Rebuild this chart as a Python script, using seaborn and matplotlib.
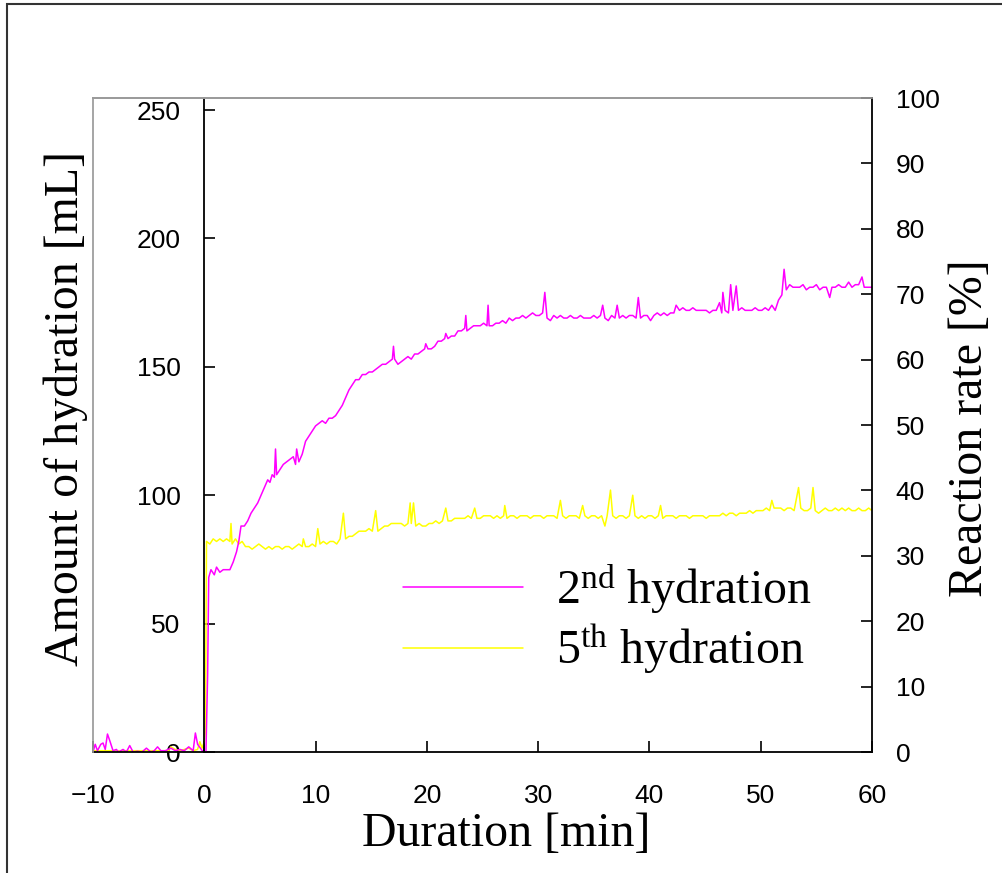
import numpy as np
import pandas as pd
import matplotlib
matplotlib.use("Agg")
import matplotlib.pyplot as plt
import seaborn as sns
from matplotlib.patches import Rectangle

# ---------------- data ----------------
t_2nd = [-10.0, -9.8, -9.6, -9.3, -9.1, -8.9, -8.7, -8.5, -8.2, -7.9, -7.7, -7.3, -7.0, -6.7, -6.4, -6.0,
         -5.6, -5.2, -4.8, -4.5, -4.2, -3.9, -3.5, -3.0, -2.6, -2.2, -1.8, -1.4, -1.0, -0.8, -0.6, -0.35,
         -0.1, 0.15, 0.3,
         0.4, 0.6, 0.9, 1.1, 1.4, 1.7, 2.0, 2.3, 2.6, 2.9, 3.1, 3.3, 3.6, 3.9, 4.2, 4.5, 4.8, 5.1, 5.4,
         5.7, 5.9, 6.1, 6.3, 6.4, 6.5, 6.8, 7.1, 7.4, 7.7, 8.0, 8.2, 8.3, 8.5, 8.8, 9.1, 9.4, 9.7, 10.0,
         10.3, 10.6, 10.9, 11.2, 11.5, 11.8, 12.1, 12.4, 12.7, 13.0, 13.3, 13.6, 13.9, 14.2, 14.5, 14.8,
         15.1, 15.4, 15.7, 16.0, 16.3, 16.6, 16.9, 17.0, 17.1, 17.4, 17.7, 18.0, 18.3, 18.6, 18.9, 19.2,
         19.5, 19.8, 19.9, 20.1, 20.4, 20.7, 21.0, 21.3, 21.6, 21.7, 21.9, 22.2, 22.5, 22.8, 23.1, 23.4,
         23.5, 23.6, 23.9, 24.2, 24.5, 24.8, 25.1, 25.4, 25.5, 25.6, 25.9, 26.2, 26.5, 26.8, 27.1, 27.4,
         27.7, 28.0, 28.3, 28.6, 28.9, 29.2, 29.5, 29.8, 30.1, 30.4, 30.6, 30.8, 31.1, 31.4, 31.7, 32.0,
         32.3, 32.6, 32.9, 33.2, 33.5, 33.8, 34.1, 34.4, 34.7, 35.0, 35.3, 35.6, 35.8, 36.0, 36.3, 36.6,
         36.9, 37.1, 37.3, 37.6, 37.9, 38.2, 38.5, 38.8, 39.0, 39.2, 39.5, 39.8, 40.1, 40.4, 40.7, 41.0,
         41.3, 41.6, 41.9, 42.2, 42.4, 42.7, 43.0, 43.3, 43.6, 43.9, 44.2, 44.5, 44.8, 45.1, 45.4, 45.7,
         46.0, 46.3, 46.5, 46.6, 46.8, 47.1, 47.3, 47.5, 47.8, 48.0, 48.3, 48.6, 48.9, 49.2, 49.5, 49.8,
         50.1, 50.4, 50.7, 51.0, 51.3, 51.6, 51.9, 52.1, 52.3, 52.6, 52.9, 53.2, 53.5, 53.8, 54.1, 54.4,
         54.7, 55.0, 55.3, 55.6, 55.9, 56.2, 56.4, 56.7, 57.0, 57.3, 57.6, 57.9, 58.2, 58.5, 58.8, 59.1,
         59.3, 59.6, 60.0]
v_2nd = [0, 3, 0.5, 3, 3.5, 1, 7, 4.5, 0.5, 1, 0, 1, 0, 2.5, 0, 0.3,
         0, 1.5, 0, 0.5, 2, 0.5, 0.5, 1.5, 0.5, 1, 0.5, 2, 0.5, 7.4, 3, 1.5,
         0, 0, 30,
         68, 71, 69, 72, 70, 71, 71, 71, 74, 78, 82, 88, 88, 90, 93, 95, 97, 100, 103,
         106, 105, 108, 107, 118, 108, 110, 112, 113, 114, 115, 112, 118, 113, 116, 121, 123, 125, 127,
         128, 129, 128, 130, 130, 131, 133, 135, 138, 141, 143, 145, 145, 147, 147, 148,
         148, 149, 150, 151, 151, 152, 153, 158, 153, 151, 152, 153, 154, 153, 155, 155,
         156, 157, 159, 157, 157, 158, 160, 160, 161, 163, 161, 162, 162, 164, 164, 165,
         170, 164, 165, 166, 166, 166, 167, 166, 174, 166, 166, 167, 167, 168, 167, 169,
         168, 169, 169, 170, 169, 170, 171, 170, 170, 171, 179, 169, 168, 170, 169, 170,
         169, 169, 170, 169, 169, 170, 169, 169, 169, 170, 169, 170, 174, 169, 168, 170,
         169, 174, 169, 170, 169, 170, 170, 169, 177, 169, 170, 170, 168, 170, 171, 170,
         171, 170, 171, 171, 174, 172, 173, 172, 172, 173, 172, 172, 172, 172, 171, 172,
         172, 175, 171, 179, 172, 171, 182, 172, 181.5, 172, 173, 172, 172, 172, 173, 172,
         172, 173, 172, 174, 172, 176, 178, 188, 180, 182, 181, 181, 181, 182, 180, 181,
         181, 182, 180, 181, 181, 177, 181, 181, 182, 181, 181, 183, 181, 182, 182, 185,
         181, 181, 181]

t_5th = [-10.0, -8.0, -6.0, -4.0, -3.2, -3.0, -2.6, -2.2, -1.8, -1.4, -1.0, -0.6, -0.4, -0.2, 0.0, 0.1,
         0.2, 0.5, 0.8, 1.1, 1.4, 1.7, 2.0, 2.3, 2.4, 2.5, 2.8, 3.1, 3.4, 3.7, 4.0, 4.3, 4.6, 4.9, 5.2,
         5.5, 5.8, 6.1, 6.4, 6.7, 7.0, 7.3, 7.6, 7.9, 8.2, 8.5, 8.8, 8.9, 9.1, 9.4, 9.7, 10.0, 10.2, 10.4,
         10.7, 11.0, 11.3, 11.6, 11.9, 12.2, 12.5, 12.7, 13.0, 13.3, 13.6, 13.9, 14.2, 14.5, 14.8, 15.1,
         15.4, 15.6, 15.9, 16.2, 16.5, 16.8, 17.1, 17.4, 17.7, 18.0, 18.3, 18.5, 18.6, 18.8, 19.0, 19.3,
         19.6, 19.9, 20.2, 20.5, 20.8, 21.1, 21.4, 21.7, 21.9, 22.2, 22.5, 22.8, 23.1, 23.4, 23.7, 24.0,
         24.3, 24.5, 24.8, 25.1, 25.4, 25.7, 26.0, 26.3, 26.6, 26.9, 27.0, 27.2, 27.5, 27.8, 28.1, 28.4,
         28.7, 29.0, 29.3, 29.6, 29.9, 30.2, 30.5, 30.8, 31.1, 31.4, 31.7, 32.0, 32.2, 32.5, 32.8, 33.1,
         33.4, 33.7, 34.0, 34.2, 34.5, 34.8, 35.1, 35.4, 35.7, 36.0, 36.2, 36.5, 36.7, 37.0, 37.3, 37.6,
         37.9, 38.2, 38.5, 38.7, 39.0, 39.3, 39.6, 39.9, 40.2, 40.5, 40.8, 41.0, 41.2, 41.5, 41.8, 42.1,
         42.4, 42.7, 43.0, 43.3, 43.6, 43.9, 44.2, 44.5, 44.8, 45.1, 45.4, 45.7, 46.0, 46.3, 46.6, 46.9,
         47.2, 47.5, 47.8, 48.1, 48.4, 48.7, 49.0, 49.3, 49.6, 49.9, 50.2, 50.5, 50.8, 51.0, 51.2, 51.5,
         51.8, 52.1, 52.4, 52.7, 53.0, 53.4, 53.6, 53.9, 54.2, 54.5, 54.7, 54.9, 55.2, 55.5, 55.8, 56.1,
         56.4, 56.7, 57.0, 57.3, 57.6, 57.9, 58.2, 58.5, 58.8, 59.1, 59.4, 59.7, 60.0]
v_5th = [0.5, 0.5, 0.5, 0.5, 0.5, 2, 1, 0.5, 1, 1.5, 0.5, 1, 4, 1.5, 4, 8,
         82, 81, 83, 82, 83, 82, 83, 82, 89, 81, 83, 81, 82, 80, 80, 79, 80, 81, 80,
         79, 80, 79, 80, 80, 79, 80, 80, 79, 80, 81, 80, 83, 80, 80, 81, 80, 87, 81,
         82, 81, 82, 82, 81, 83, 93, 83, 84, 84, 85, 86, 86, 86, 87, 86,
         94, 86, 87, 88, 88, 89, 89, 89, 89, 88, 89, 97, 89, 97, 88, 89,
         88, 88, 89, 89, 90, 89, 90, 95, 90, 90, 91, 91, 91, 91, 92, 91,
         95, 91, 91, 92, 92, 92, 91, 92, 91, 92, 96, 91, 92, 92, 91, 92,
         92, 92, 91, 92, 92, 92, 91, 92, 92, 92, 91, 98, 92, 91, 92, 92,
         92, 91, 96, 92, 91, 92, 92, 91, 92, 88, 92, 102, 92, 91, 92, 92,
         91, 92, 100, 92, 91, 92, 91, 92, 92, 91, 92, 96, 91, 92, 92, 92,
         91, 92, 92, 92, 91, 92, 92, 92, 92, 91, 92, 92, 92, 92, 93, 92,
         93, 93, 92, 93, 93, 93, 94, 93, 94, 94, 94, 95, 94, 98, 95, 95,
         95, 94, 95, 95, 94, 103, 95, 94, 94, 95, 103, 94, 93, 94, 95, 94,
         94, 95, 94, 95, 94, 95, 94, 94, 95, 94, 94, 95, 94]

series_names = ["2nd", "5th"]
legend_labels = [r"2$^{\mathrm{nd}}$ hydration", r"5$^{\mathrm{th}}$ hydration"]
series_colors = {"2nd": "#FF00FF", "5th": "#FFFF00"}
x_ticks = [-10, 0, 10, 20, 30, 40, 50, 60]
left_ticks = [0, 50, 100, 150, 200, 250]
right_ticks = [0, 10, 20, 30, 40, 50, 60, 70, 80, 90, 100]

df = pd.concat([
    pd.DataFrame({"Duration": t_2nd, "Amount": v_2nd, "Series": "2nd"}),
    pd.DataFrame({"Duration": t_5th, "Amount": v_5th, "Series": "5th"}),
], ignore_index=True)

# ---------------- style ----------------
sns.set_theme(style="white")
plt.rcParams["font.family"] = ["Liberation Sans", "DejaVu Sans"]
plt.rcParams["mathtext.fontset"] = "custom"
plt.rcParams["mathtext.rm"] = "Liberation Serif"
plt.rcParams["mathtext.it"] = "Liberation Serif:italic"
plt.rcParams["text.color"] = "black"
plt.rcParams["axes.labelcolor"] = "black"
plt.rcParams["xtick.color"] = "black"
plt.rcParams["ytick.color"] = "black"

fig = plt.figure(figsize=(10.03, 8.73), dpi=100)
ax = fig.add_axes([93 / 1003, 1 - 752 / 873, 779 / 1003, 654 / 873])

sns.lineplot(data=df, x="Duration", y="Amount", hue="Series", hue_order=["5th", "2nd"],
             palette=series_colors, estimator=None, sort=False, lw=1.1, ax=ax, legend=False)

ax.set_xlim(-10, 60)
ax.set_ylim(0, 254.7)
ax.set_xticks(x_ticks)
ax.set_yticks(left_ticks)
ax.set_xticklabels(["\u221210" if v < 0 else str(v) for v in x_ticks])

gray = "#9a9a9a"
ax.spines["left"].set_position(("data", 0))
ax.spines["left"].set_color("black")
ax.spines["left"].set_linewidth(1.3)
ax.spines["bottom"].set_color("black")
ax.spines["bottom"].set_linewidth(1.3)
ax.spines["top"].set_color(gray)
ax.spines["right"].set_visible(False)

ax.tick_params(axis="x", direction="in", length=8, width=1.2, color="black",
               labelcolor="black", labelsize=19, pad=23, bottom=True)
ax.tick_params(axis="y", direction="in", length=8, width=1.2, color="black",
               labelcolor="black", labelsize=19, pad=17, left=True)

serif = "Liberation Serif"
ax.set_xlabel("Duration [min]", fontsize=34.5, family=serif, color="black")
ax.xaxis.set_label_coords((506 - 93) / 779, (752 - 812) / 654)
ax.set_ylabel("Amount of hydration [mL]", fontsize=34.5, family=serif, color="black")
ax.yaxis.set_label_coords((88 - 93) / 779, (752 - 409) / 654)

ax2 = ax.twinx()
ax2.set_ylim(0, 100)
ax2.set_yticks(right_ticks)
ax2.spines["right"].set_color("black")
ax2.spines["right"].set_linewidth(1.3)
ax2.spines["left"].set_color(gray)
ax2.spines["top"].set_color(gray)
ax2.spines["bottom"].set_visible(False)
ax2.tick_params(axis="y", direction="in", length=8, width=1.2, color="black",
                labelcolor="black", labelsize=19, pad=17, right=True)
ax2.set_ylabel("Reaction rate [%]", fontsize=34.5, family=serif, color="black")
ax2.yaxis.set_label_coords((948 - 93) / 779, (752 - 428) / 654)

# legend
handles = [plt.Line2D([], [], color=series_colors[name], lw=1.1) for name in series_names]
leg = ax.legend(handles, legend_labels, loc="upper left",
                bbox_to_anchor=(403 / 1003, 1 - 562 / 873), bbox_transform=fig.transFigure,
                frameon=False, borderpad=0, borderaxespad=0, handlelength=2.5, handletextpad=0.7,
                labelspacing=0.15, prop={"family": serif, "size": 34.5})
for txt in leg.get_texts():
    txt.set_color("black")

# outer frame (left and top edges visible)
fig.patches.append(Rectangle((7 / 1003, -0.2), 1.2, 1.2 - 4 / 873, fill=False,
                             edgecolor="#333333", lw=1.5, transform=fig.transFigure, figure=fig))

fig.savefig("out.png", dpi=100)
